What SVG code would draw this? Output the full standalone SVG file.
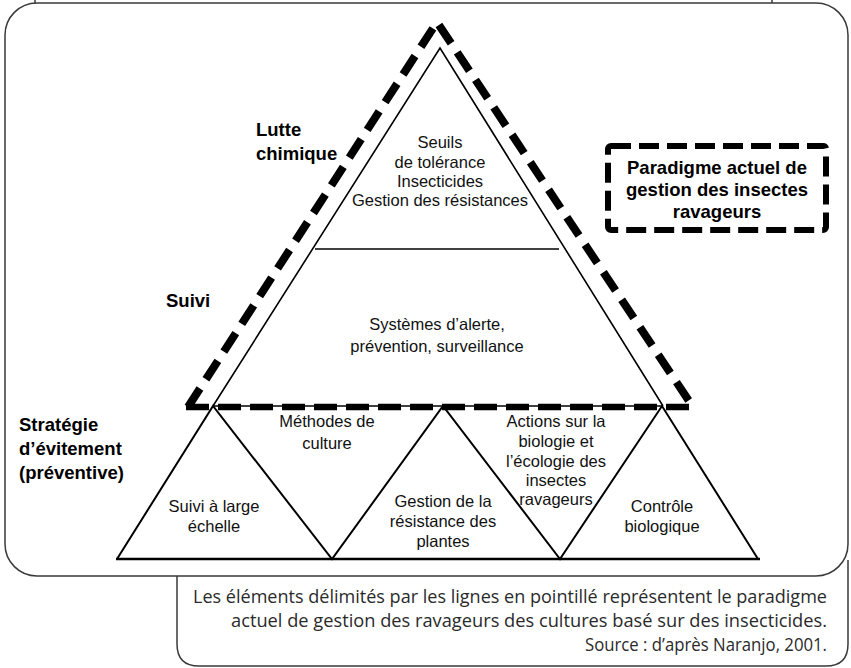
<svg xmlns="http://www.w3.org/2000/svg" width="851" height="668" viewBox="0 0 851 668">
  <style>
    .frame { fill: none; stroke: #3a3a3a; stroke-width: 1.5; }
    .tri { fill: none; stroke: #000; stroke-width: 1.6; stroke-linejoin: miter; }
    .tri2 { fill: none; stroke: #000; stroke-width: 2; }
    .dash { fill: none; stroke: #000; stroke-width: 8; stroke-dasharray: 22 11; }
    .dashh { fill: none; stroke: #000; stroke-width: 6.5; stroke-dasharray: 23 9; }
    .lbl { font-family: "Liberation Sans", Arial, sans-serif; font-size: 16.5px; fill: #111; text-anchor: middle; }
    .side { font-family: "Liberation Sans", Arial, sans-serif; font-size: 18.5px; font-weight: bold; fill: #000; }
    .cap { font-family: "Open Sans", "Noto Sans", sans-serif; font-size: 17.5px; fill: #2a2a2a; text-anchor: end; }
  </style>

  <!-- outer frames -->
  <g id="frames">
    <path class="frame" d="M35 0 V3 M772 0 V3"/>
    <rect class="frame" x="5" y="3" width="843" height="573" rx="32" ry="32"/>
    <path class="frame" d="M177 576 V644 Q177 666 199 666 H826 Q848 666 848 644 V560"/>
  </g>

  <!-- pyramid -->
  <g id="pyramid-top">
    <path class="tri" d="M213 406 L440 48 L663 406"/>
    <line class="tri" x1="315" y1="249" x2="559" y2="249"/>
  </g>
  <g id="pyramid-base">
    <line class="tri" x1="213" y1="406" x2="663" y2="406"/>
    <path class="tri2" d="M117 559 L213 406 L332 559 L443 406 L560 559 L662 406 L758 559"/>
    <line x1="116" y1="559" x2="760" y2="559" stroke="#000" stroke-width="2.6"/>
  </g>

  <!-- dashed outline of the current paradigm -->
  <g id="paradigm-outline">
    <path class="dash" d="M188 407 L437 22 L693 407"/>
    <line class="dashh" x1="186" y1="407" x2="694" y2="407"/>
  </g>

  <!-- legend box -->
  <g id="legend">
    <rect x="608" y="146" width="218" height="84" rx="3" fill="none" stroke="#000" stroke-width="6" stroke-dasharray="20 8"/>
    <text class="side" text-anchor="middle" x="717" y="174">Paradigme actuel de</text>
    <text class="side" text-anchor="middle" x="717" y="196">gestion des insectes</text>
    <text class="side" text-anchor="middle" x="717" y="218">ravageurs</text>
  </g>

  <!-- side labels -->
  <g id="side-labels">
    <text class="side" x="256" y="136">Lutte</text>
    <text class="side" x="256" y="160">chimique</text>
    <text class="side" x="166" y="307">Suivi</text>
    <text class="side" x="19" y="431">Stratégie</text>
    <text class="side" x="19" y="455">d’évitement</text>
    <text class="side" x="19" y="479">(préventive)</text>
  </g>

  <!-- level labels -->
  <g id="level-chimique">
    <text class="lbl" x="440" y="148">Seuils</text>
    <text class="lbl" x="440" y="168">de tolérance</text>
    <text class="lbl" x="440" y="187">Insecticides</text>
    <text class="lbl" x="440" y="206">Gestion des résistances</text>
  </g>
  <g id="level-suivi">
    <text class="lbl" x="437" y="330">Systèmes d’alerte,</text>
    <text class="lbl" x="437" y="352">prévention, surveillance</text>
  </g>
  <g id="methodes">
    <text class="lbl" x="327" y="427">Méthodes de</text>
    <text class="lbl" x="327" y="449">culture</text>
  </g>
  <g id="actions">
    <text class="lbl" x="556" y="427">Actions sur la</text>
    <text class="lbl" x="556" y="447">biologie et</text>
    <text class="lbl" x="556" y="467">l’écologie des</text>
    <text class="lbl" x="556" y="486">insectes</text>
    <text class="lbl" x="556" y="505">ravageurs</text>
  </g>
  <g id="suivi-large">
    <text class="lbl" x="214" y="512">Suivi à large</text>
    <text class="lbl" x="214" y="532">échelle</text>
  </g>
  <g id="gestion-resistance">
    <text class="lbl" x="443" y="507">Gestion de la</text>
    <text class="lbl" x="443" y="527">résistance des</text>
    <text class="lbl" x="443" y="547">plantes</text>
  </g>
  <g id="controle">
    <text class="lbl" x="662" y="512">Contrôle</text>
    <text class="lbl" x="662" y="532">biologique</text>
  </g>

  <!-- caption -->
  <g id="caption">
    <text class="cap" x="827" y="603" textLength="634" lengthAdjust="spacingAndGlyphs">Les éléments délimités par les lignes en pointillé représentent le paradigme</text>
    <text class="cap" x="827" y="627" textLength="596" lengthAdjust="spacingAndGlyphs">actuel de gestion des ravageurs des cultures basé sur des insecticides.</text>
    <text class="cap" x="827" y="651" textLength="242" lengthAdjust="spacingAndGlyphs">Source : d’après Naranjo, 2001.</text>
  </g>
</svg>
